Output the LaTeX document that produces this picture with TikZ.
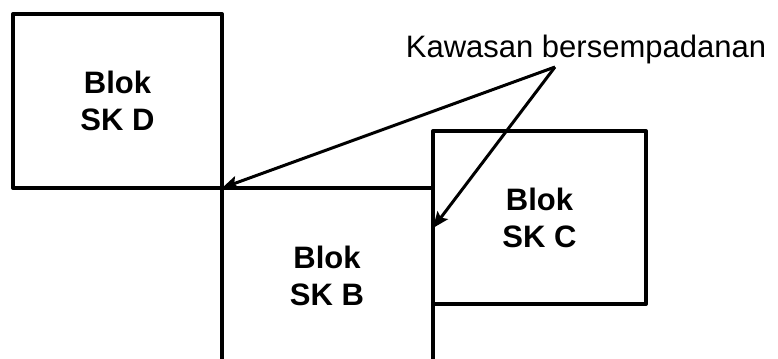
\documentclass[tikz,border=0pt]{standalone}
\usepackage{fontspec}
\setmainfont{Liberation Sans}
\usetikzlibrary{arrows.meta,calc}
\begin{document}
\begin{tikzpicture}[x=0.5pt,y=-0.5pt,
  wall/.style={line width=2pt,line join=round,line cap=rect},
  blok/.style={draw,wall,rectangle,inner sep=0pt,outer sep=0pt,align=center,
    font=\fontsize{15.5pt}{18.5pt}\selectfont\bfseries},
  lbl/.style={align=center,font=\fontsize{15.5pt}{18.5pt}\selectfont\bfseries},
  ptr/.style={line width=1.5pt,-{Stealth[length=8pt,width=6.5pt,inset=1.5pt]}}]
\useasboundingbox (0,0) rectangle (778,359);
\node[blok,minimum width=104.5pt,minimum height=87pt] (D) at (117.5,101) {Blok\\SK D};
\node[blok,minimum width=106.5pt,minimum height=86.5pt] (C) at (539.5,217.5) {Blok\\SK C};
\coordinate (Bbl) at (222,362);
\coordinate (Bbr) at (433,362);
\draw[wall] (D.south east) -- (D.south east -| C.west);
\draw[wall] (D.south east) -- (Bbl);
\draw[wall] (C.south west) -- (Bbr);
\node[lbl] (B) at (327,276) {Blok\\SK B};
\node[anchor=base,font=\fontsize{15.5pt}{18.5pt}\selectfont,inner sep=0pt] (K) at (586,57) {Kawasan bersempadanan};
\coordinate (src) at (555,67);
\draw[ptr] (src) -- (D.south east);
\draw[ptr] (src) -- ([yshift=-5.25pt]C.west);
\end{tikzpicture}
\end{document}
